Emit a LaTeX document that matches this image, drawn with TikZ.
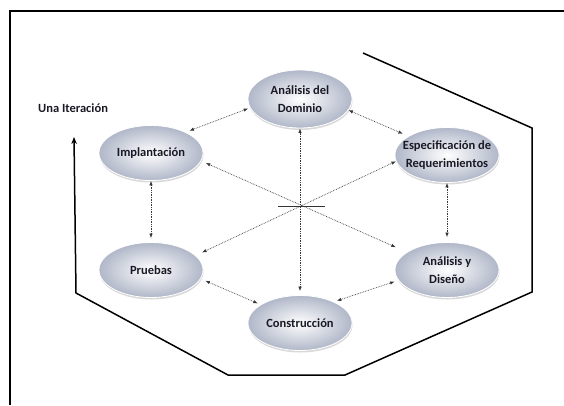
\documentclass[tikz,border=0pt]{standalone}
\usepackage{fontspec}
\setmainfont{Carlito}
\usetikzlibrary{shapes.geometric, arrows.meta, shadows}

\definecolor{fondoelipse}{RGB}{176,183,200}
\definecolor{textoelipse}{RGB}{25,25,38}
\definecolor{flechagris}{RGB}{55,55,55}

\begin{document}
\begin{tikzpicture} [x = 1pt, y = -1pt,
  etapa/.style = {ellipse, minimum width = 104pt, minimum height = 55pt,
    inner xsep = -12pt, inner ysep = 0pt,
    inner color = white, outer color = fondoelipse, draw = white, line width = 0.8pt,
    drop shadow = {opacity = 0.3, shadow xshift = 0.5pt, shadow yshift = -2pt},
    font = \fontsize{12.5}{18}\selectfont\bfseries, text = textoelipse, align = center},
  enlace/.style = {<->, >={Latex[length = 4.5pt, width = 3.5pt]}, densely dotted, line width = 0.7pt, flechagris}]
\useasboundingbox (0, 0) rectangle (564, 405);
\draw[line width = 2pt] (9.5, 405) -- (9.5, 10.5) -- (564, 10.5);
\draw[line width = 1.5pt, -{Stealth[length = 7pt, width = 5.5pt]}] (363, 53) -- (532, 128) -- (532, 292) -- (345, 375) -- (228, 375) -- (76, 293) -- (74, 137);
\node[right, inner sep = 0pt, font = \fontsize{12.5}{14}\selectfont\bfseries, textoelipse] (iteracion) at (38, 108) {Una Iteración};
\node[etapa, minimum height = 58pt] (dominio) at (300, 99) {Análisis del\\Dominio};
\node[etapa] (implantacion) at (151, 153) {Implantación};
\node[etapa] (especificacion) at (447, 155) {Especificación de\\Requerimientos};
\node[etapa] (pruebas) at (151, 270) {Pruebas};
\node[etapa] (diseno) at (447, 270) {Análisis y\\Diseño};
\node[etapa] (construccion) at (300, 323) {Construcción};
\draw[enlace, shorten <= 2pt, shorten >= 4pt] (dominio.190) -- (implantacion.31);
\draw[enlace, shorten >= 6pt] (dominio.-13) -- (especificacion.154);
\draw[enlace, shorten >= 4pt] (dominio.south) -- (construccion.north);
\draw[enlace, shorten <= 5pt, shorten >= 12pt] (implantacion.-9) -- (diseno.156);
\draw[enlace, shorten >= 7pt] (especificacion.187) -- (pruebas.18);
\draw[enlace, shorten >= 4pt] (implantacion.south) -- (pruebas.north);
\draw[enlace, shorten >= 5pt] (especificacion.south) -- (diseno.north);
\draw[enlace, shorten <= 5pt, shorten >= 3pt] (pruebas.-10) -- (construccion.155);
\draw[enlace, shorten <= 3pt, shorten >= 4pt] (construccion.32) -- (diseno.192);
\draw[line width = 1.8pt, black!80] (278, 206.5) -- (325, 206.5);
\end{tikzpicture}
\end{document}
